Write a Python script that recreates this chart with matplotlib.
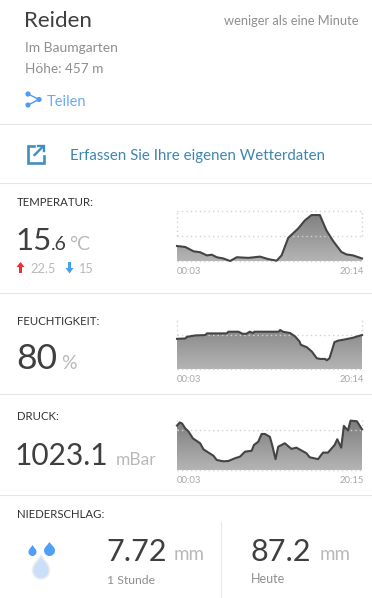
import numpy as np
import matplotlib
matplotlib.use("Agg")
import matplotlib.pyplot as plt
from matplotlib.colors import LinearSegmentedColormap
from matplotlib.patches import Circle, PathPatch, Polygon
from matplotlib.path import Path

plt.rcParams['font.family'] = ['Lato', 'DejaVu Sans']

W, H = 372, 598

temp_hours = [0.05, 0.95, 1.86, 2.58, 3.31, 3.85, 4.39, 5.12, 5.84, 6.57, 7.84, 9.11, 10.01, 10.92, 11.46, 12.18, 13.27, 14.0, 14.72, 15.63, 16.35, 17.08, 17.98, 18.53, 19.25, 20.23]
temp_vals = [17.4, 17.24, 16.55, 16.4, 15.9, 16.0, 15.6, 15.4, 15.0, 15.6, 15.5, 15.7, 15.3, 15.05, 15.9, 18.7, 20.2, 21.5, 22.35, 22.35, 19.9, 18.2, 16.45, 16.05, 15.9, 15.4]

hum_hours = [0.05, 0.95, 1.14, 2.04, 3.13, 3.31, 5.48, 5.66, 6.75, 7.19, 7.62, 7.98, 8.34, 8.49, 11.13, 11.31, 11.6, 12.4, 12.94, 13.41, 13.56, 14.21, 14.76, 15.3, 15.67, 16.21, 16.39, 16.68, 16.97, 17.22, 17.66, 18.13, 19.22, 19.94, 20.23]
hum_vals = [76.7, 77, 78.5, 79.7, 80, 81.5, 81.5, 83, 83, 81.2, 81.2, 83, 81.8, 83, 83, 84.5, 83, 81.8, 78.8, 74.4, 71.4, 69.3, 65.4, 59.5, 58.9, 58.9, 57.7, 59.5, 66.9, 73.8, 75.2, 75.8, 77.6, 79.4, 80]

press_hours = [0.05, 0.34, 0.6, 0.95, 1.32, 1.78, 2.58, 2.94, 3.49, 4.03, 4.39, 5.12, 5.66, 6.39, 6.93, 7.47, 8.2, 8.45, 8.92, 9.29, 9.65, 10.19, 10.44, 10.81, 11.1, 11.82, 12.55, 13.09, 14.18, 14.54, 15.45, 15.99, 16.53, 17.26, 17.55, 17.98, 18.27, 18.71, 19.0, 19.69, 20.25]
press_vals = [1024.3, 1025.3, 1025.0, 1023.4, 1022.35, 1020.2, 1018.6, 1016.65, 1015.6, 1014.6, 1013.2, 1012.8, 1012.9, 1013.8, 1014.3, 1015.9, 1016.2, 1018.05, 1019.1, 1021.6, 1021.6, 1020.7, 1018.05, 1013.5, 1017.5, 1018.6, 1016.8, 1017.2, 1015.4, 1014.1, 1013.5, 1015.6, 1015.6, 1018.05, 1019.9, 1017.2, 1024.2, 1022.7, 1025.9, 1025.7, 1023.1]

charts = [
    dict(t=temp_hours, v=temp_vals, top=211, bottom=261, ylim=(15, 23), mid=19, right_label='20:14', grid_top=True),
    dict(t=hum_hours, v=hum_vals, top=319, bottom=369, ylim=(50, 94.25), mid=80, right_label='20:14', grid_top=False),
    dict(t=press_hours, v=press_vals, top=420, bottom=470, ylim=(1010, 1026.1), mid=1023, right_label='20:15', grid_top=False),
]

DARK = '#3f3f3f'
GREY = '#8f8f8f'
LIGHT = '#b9b9b9'
LABEL = '#333333'

fig = plt.figure(figsize=(W / 100, H / 100), dpi=100, facecolor='white')
ui = fig.add_axes([0, 0, 1, 1])
ui.set_xlim(0, W)
ui.set_ylim(H, 0)
ui.axis('off')


def txt(x, y, s, size, color, **kw):
    kw.setdefault('va', 'baseline')
    return ui.text(x, y, s, fontsize=size, color=color, **kw)


# header
txt(24, 27, 'Reiden', 16, DARK)
txt(359, 25, 'weniger als eine Minute', 9.3, GREY, ha='right')
txt(25, 52, 'Im Baumgarten', 10, GREY)
txt(25, 73, 'Höhe: 457 m', 9.8, GREY)
txt(47, 106, 'Teilen', 10.5, '#6aaaf0')

# share icon
for cx, cy in [(28, 94), (39, 99.5), (28, 105)]:
    ui.add_patch(Circle((cx, cy), 2.6, color='#4f9bf0', lw=0))
ui.plot([28, 39, 28], [94, 99.5, 105], color='#4f9bf0', lw=1)

# external link icon
ic = '#3f8fc0'
ui.plot([34, 28, 28, 43.5, 43.5], [146, 146, 162.5, 162.5, 155.5], color=ic, lw=1.9, solid_joinstyle='miter')
ui.plot([34.5, 43], [155, 146.5], color=ic, lw=1.7)
ui.plot([37.5, 43.5, 43.5], [145.5, 145.5, 151], color=ic, lw=1.7, solid_joinstyle='miter')
txt(70, 160, 'Erfassen Sie Ihre eigenen Wetterdaten', 10.85, '#3f86ad')

# dividers
for y in [124, 183, 293, 394, 495]:
    ui.plot([0, W], [y, y], color='#e6e6e6', lw=0.8)
ui.plot([220.5, 220.5], [522, H], color='#e8e8e8', lw=0.8)

# section labels
for y, s in [(206, 'TEMPERATUR:'), (325, 'FEUCHTIGKEIT:'), (420, 'DRUCK:'), (518, 'NIEDERSCHLAG:')]:
    txt(16.5, y, s, 8.2, LABEL)

# temperature
txt(15, 250, '15', 22.5, DARK)
txt(50.5, 250, '.6', 14, DARK)
txt(69, 250, '°C', 14, LIGHT)
ui.add_patch(Polygon([(20.5, 262), (24.5, 267), (22, 267), (22, 273), (19, 273), (19, 267), (16.5, 267)], color='#e8303a', lw=0))
txt(30, 273, '22.5', 9.2, LIGHT)
ui.add_patch(Polygon([(69.5, 273.5), (65.5, 268), (68, 268), (68, 262), (71, 262), (71, 268), (73.5, 268)], color='#45a2ee', lw=0))
txt(78, 273, '15', 9.2, LIGHT)

# humidity
txt(16, 369, '80', 25.5, DARK)
txt(61, 369, '%', 14, LIGHT)

# pressure
txt(15, 465, '1023.1', 21.5, DARK)
txt(116, 465, 'mBar', 12.5, LIGHT)

# rain
txt(106, 561, '7.72', 22, DARK)
txt(174, 560, 'mm', 13.5, LIGHT)
txt(107, 584, '1 Stunde', 8.8, GREY)
txt(250, 561, '87.2', 22, DARK)
txt(320, 560, 'mm', 13.5, LIGHT)
txt(251, 583, 'Heute', 9, GREY)


def drop(cx, top, w, h, color, edge='none', lw=0):
    r = w / 2
    bot = top + h
    verts = [(cx, top),
             (cx - r * 0.35, top + h * 0.22), (cx - r, top + h * 0.38), (cx - r, bot - r),
             (cx - r, bot - r * 0.45), (cx - r * 0.55, bot), (cx, bot),
             (cx + r * 0.55, bot), (cx + r, bot - r * 0.45), (cx + r, bot - r),
             (cx + r, top + h * 0.38), (cx + r * 0.35, top + h * 0.22), (cx, top)]
    codes = [Path.MOVETO] + [Path.CURVE4] * 12
    ui.add_patch(PathPatch(Path(verts, codes), facecolor=color, edgecolor=edge, lw=lw))


drop(32.5, 545, 8, 11, '#4f9ff2')
drop(49.5, 542, 11, 14, '#4f9ff2')
drop(41, 555, 17, 24, '#c9dffa', edge='#eeeeee', lw=1.2)


def draw_chart(t, v, top, bottom, ylim, mid, right_label, grid_top):
    left, right = 177, 362
    ax = fig.add_axes([left / W, 1 - bottom / H, (right - left) / W, (bottom - top) / H])
    ax.set_xlim(t[0], t[-1])
    ax.set_ylim(*ylim)
    ax.axis('off')
    grad = np.linspace(0, 1, 64).reshape(-1, 1)
    im = ax.imshow(grad, extent=[t[0], t[-1], ylim[0], ylim[1]], aspect='auto', origin='upper',
                   cmap=LinearSegmentedColormap.from_list('g', ['#7d7d7d', '#b4b4b4']), zorder=1)
    clip = Path(np.vstack([[t[0], ylim[0]], np.column_stack([t, v]), [t[-1], ylim[0]]]))
    im.set_clip_path(clip, transform=ax.transData)
    dot = dict(color='#d2d2d2', lw=1, ls=(0, (1, 2.2)), clip_on=False, zorder=2)
    ax.plot([t[0], t[-1]], [mid, mid], **dot)
    ax.plot([t[0], t[-1]], [ylim[0], ylim[0]], **dot)
    if grid_top:
        ax.plot([t[0], t[-1]], [ylim[1], ylim[1]], **dot)
    ax.plot([t[0], t[0]], [mid, ylim[1]], **dot)
    ax.plot([t[-1], t[-1]], [mid, ylim[1]], **dot)
    ax.plot(t, v, color='#444444', lw=1.5, zorder=3, clip_on=False, solid_joinstyle='round')
    txt(left, bottom + 13, '00:03', 6.8, '#a8a8a8')
    txt(right + 2, bottom + 13, right_label, 6.8, '#a8a8a8', ha='right')


for c in charts:
    draw_chart(**c)

fig.savefig('out.png', dpi=100)
